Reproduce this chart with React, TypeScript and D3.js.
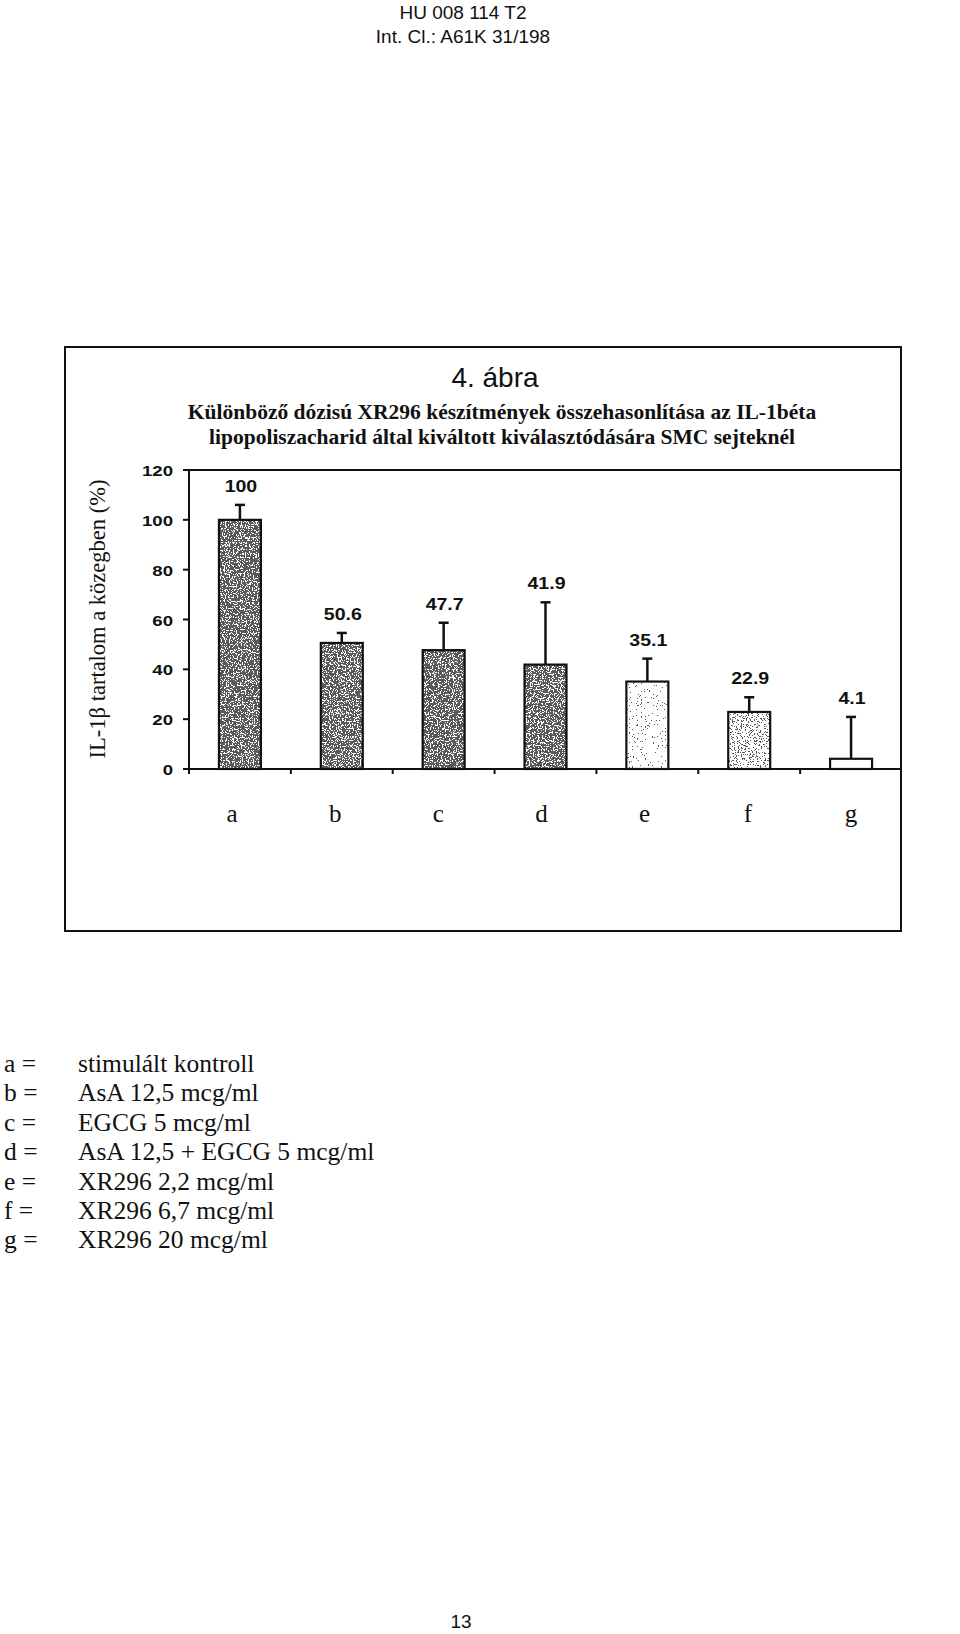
import React from 'react';
import * as d3 from 'd3';

// ---- data ----
const categories = ['a', 'b', 'c', 'd', 'e', 'f', 'g'];
const values = [100, 50.6, 47.7, 41.9, 35.1, 22.9, 4.1];
const errors = [6, 4, 11, 25, 9.2, 5.9, 16.8];
const valueLabels = ['100', '50.6', '47.7', '41.9', '35.1', '22.9', '4.1'];
const yTicks = [0, 20, 40, 60, 80, 100, 120];
const legendKeys = ['a =', 'b =', 'c =', 'd =', 'e =', 'f =', 'g ='];
const legendTexts = [
  'stimulált kontroll',
  'AsA 12,5 mcg/ml',
  'EGCG 5 mcg/ml',
  'AsA 12,5 + EGCG 5 mcg/ml',
  'XR296 2,2 mcg/ml',
  'XR296 6,7 mcg/ml',
  'XR296 20 mcg/ml',
];
const headerLines = ['HU 008 114 T2', 'Int. Cl.: A61K 31/198'];
const figureLabel = '4. ábra';
const titleLines = [
  'Különböző dózisú XR296 készítmények összehasonlítása az IL-1béta',
  'lipopoliszacharid által kiváltott kiválasztódására SMC sejteknél',
];
const yAxisTitle = 'IL-1β tartalom a közegben (%)';
const pageNumber = '13';

// ---- styles (texture density per category: threshold of noise) ----
const textureThreshold: Record<string, number | null> = {
  a: 0.43, b: 0.44, c: 0.43, d: 0.44, e: 0.7, f: 0.6, g: null,
};

const SANS = "'Liberation Sans', Arial, sans-serif";
const SERIF = "'Liberation Serif', 'Times New Roman', serif";

export default function App() {
  const W = 960, H = 1634;
  const x = d3.scaleBand<string>().domain(categories).range([189, 902]).paddingInner(0.588).paddingOuter(0.294);
  const xl = d3.scalePoint<string>().domain(categories).range([232, 851]);
  const y = d3.scaleLinear().domain([0, 120]).range([769, 470]);
  const x0 = 189, x1 = 901;

  const boundaries = categories.map((c) => (x(c) as number) - x.step() * x.paddingInner() / 2);

  return (
    <svg width={W} height={H} style={{ position: 'absolute', left: 0, top: 0, display: 'block', background: '#fff' }}>
      <defs>
        {categories.map((c, i) => {
          const t = textureThreshold[c];
          if (t == null) return null;
          return (
            <filter key={c} id={`tex-${c}`} x="0" y="0" width="1" height="1" filterUnits="objectBoundingBox">
              <feTurbulence type="fractalNoise" baseFrequency="0.75" numOctaves="2" seed={i * 7 + 3} result="n" />
              <feColorMatrix in="n" type="matrix"
                values={`0 0 0 0 0.1  0 0 0 0 0.1  0 0 0 0 0.1  1 0 0 0 ${0.5 - t}`} result="m" />
              <feComponentTransfer in="m">
                <feFuncA type="discrete" tableValues="0 1" />
              </feComponentTransfer>
            </filter>
          );
        })}
      </defs>
      <rect x={0} y={0} width={W} height={H} fill="#fff" />

      {/* header */}
      {headerLines.map((t, i) => (
        <text key={t} x={463} y={19 + i * 23.5} textAnchor="middle" fontFamily={SANS} fontSize={19} fill="#111">{t}</text>
      ))}

      {/* frame */}
      <rect x={65} y={347} width={836} height={584} fill="none" stroke="#111" strokeWidth={2} />

      <text x={495} y={387} textAnchor="middle" fontFamily={SANS} fontSize={28} fill="#111">{figureLabel}</text>
      {titleLines.map((t, i) => (
        <text key={t} x={502} y={419 + i * 25} textAnchor="middle" fontFamily={SERIF} fontWeight="bold" fontSize={21.5} fill="#111">{t}</text>
      ))}

      {/* y axis title */}
      <text transform={`translate(105, 619) rotate(-90)`} textAnchor="middle" fontFamily={SERIF} fontSize={22.5} fill="#111">{yAxisTitle}</text>

      {/* bars */}
      {categories.map((c, i) => {
        const bx = x(c) as number;
        const bw = x.bandwidth();
        const top = y(values[i]);
        const h = y(0) - top;
        const t = textureThreshold[c];
        return (
          <g key={c}>
            <rect x={bx} y={top} width={bw} height={h} fill="#fff" />
            {t != null && <rect x={bx} y={top} width={bw} height={h} fill="#000" filter={`url(#tex-${c})`} />}
            <rect x={bx} y={top} width={bw} height={h} fill="none" stroke="#111" strokeWidth={2.2} />
          </g>
        );
      })}

      {/* error bars */}
      {categories.map((c, i) => {
        const cx = (x(c) as number) + x.bandwidth() / 2;
        const yt = y(values[i] + errors[i]);
        return (
          <g key={c} stroke="#111" strokeWidth={2.5}>
            <line x1={cx} x2={cx} y1={y(values[i])} y2={yt} />
            <line x1={cx - 5} x2={cx + 5} y1={yt} y2={yt} />
          </g>
        );
      })}

      {/* value labels */}
      {categories.map((c, i) => {
        const cx = (x(c) as number) + x.bandwidth() / 2;
        const yt = y(values[i] + errors[i]);
        return (
          <text key={c} transform={`translate(${cx + 1}, ${yt - 13}) scale(1.15, 1)`} textAnchor="middle"
            fontFamily={SANS} fontWeight="bold" fontSize={17} fill="#111">{valueLabels[i]}</text>
        );
      })}

      {/* axes */}
      <g stroke="#111" strokeWidth={2} fill="none">
        <line x1={x0} x2={x0} y1={y(120)} y2={y(0) + 5} />
        <line x1={x0 - 6} x2={x1} y1={y(0)} y2={y(0)} />
        <line x1={x0} x2={x1} y1={y(120)} y2={y(120)} />
        {yTicks.map((v) => (
          <line key={v} x1={x0 - 6} x2={x0} y1={y(v)} y2={y(v)} />
        ))}
        {boundaries.slice(1).map((b, i) => (
          <line key={i} x1={b} x2={b} y1={y(0)} y2={y(0) + 5} />
        ))}
      </g>
      {yTicks.map((v) => (
        <text key={v} transform={`translate(173, ${y(v) + 6}) scale(1.2, 1)`} textAnchor="end"
          fontFamily={SANS} fontWeight="bold" fontSize={15.5} fill="#111">{v}</text>
      ))}

      {/* category labels */}
      {categories.map((c) => (
        <text key={c} x={xl(c)} y={822} textAnchor="middle" fontFamily={SERIF} fontSize={25} fill="#111">{c}</text>
      ))}

      {/* legend */}
      {legendKeys.map((k, i) => (
        <g key={k}>
          <text x={4} y={1072 + i * 29.4} fontFamily={SERIF} fontSize={25.5} fill="#111">{k}</text>
          <text x={78} y={1072 + i * 29.4} fontFamily={SERIF} fontSize={25.5} fill="#111">{legendTexts[i]}</text>
        </g>
      ))}

      <text x={461} y={1628} textAnchor="middle" fontFamily={SANS} fontSize={19} fill="#111">{pageNumber}</text>
    </svg>
  );
}
